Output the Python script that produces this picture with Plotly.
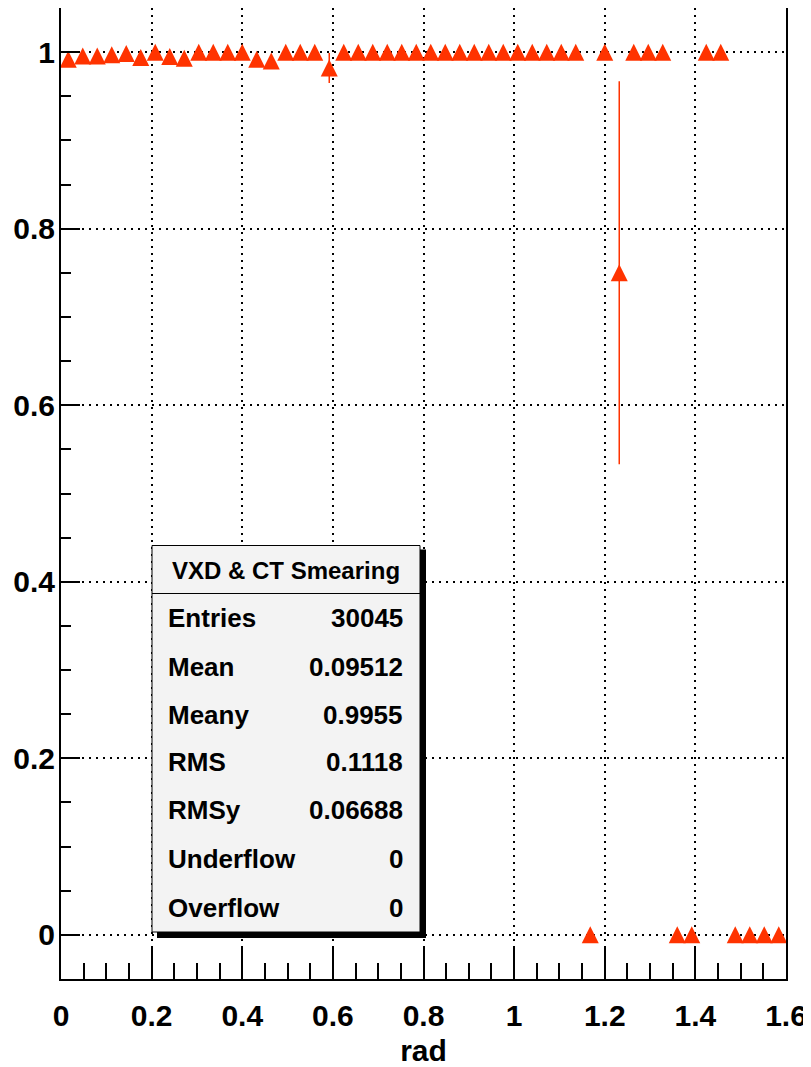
import plotly.graph_objects as go

# ---------------- data ----------------
bin_centers = [0.016, 0.048, 0.080, 0.112, 0.144, 0.176, 0.208, 0.240, 0.272, 0.304,
               0.336, 0.368, 0.400, 0.432, 0.464, 0.496, 0.528, 0.560, 0.592, 0.624,
               0.656, 0.688, 0.720, 0.752, 0.784, 0.816, 0.848, 0.880, 0.912, 0.944,
               0.976, 1.008, 1.040, 1.072, 1.104, 1.136, 1.168, 1.200, 1.232, 1.264,
               1.296, 1.328, 1.360, 1.392, 1.424, 1.456, 1.488, 1.520, 1.552, 1.584]
efficiency = [0.992, 0.9955, 0.9955, 0.997, 0.9985, 0.994, 1.0, 0.995, 0.993, 1.0,
              1.0, 1.0, 1.0, 0.992, 0.990, 1.0, 1.0, 1.0, 0.982, 1.0,
              1.0, 1.0, 1.0, 1.0, 1.0, 1.0, 1.0, 1.0, 1.0, 1.0,
              1.0, 1.0, 1.0, 1.0, 1.0, 1.0, 0.0, 1.0, 0.75, 1.0,
              1.0, 1.0, 0.0, 0.0, 1.0, 1.0, 0.0, 0.0, 0.0, 0.0]
eff_error = [0.006, 0.004, 0.004, 0.003, 0.002, 0.005, 0.0, 0.004, 0.005, 0.0,
             0.0, 0.0, 0.0, 0.006, 0.007, 0.0, 0.0, 0.0, 0.017, 0.0,
             0.0, 0.0, 0.0, 0.0, 0.0, 0.0, 0.0, 0.0, 0.0, 0.0,
             0.0, 0.0, 0.0, 0.0, 0.0, 0.0, 0.0, 0.0, 0.217, 0.0,
             0.0, 0.0, 0.0, 0.0, 0.0, 0.0, 0.0, 0.0, 0.0, 0.0]

x_ticks = [0, 0.2, 0.4, 0.6, 0.8, 1.0, 1.2, 1.4, 1.6]
x_tick_labels = ["0", "0.2", "0.4", "0.6", "0.8", "1", "1.2", "1.4", "1.6"]
y_ticks = [0, 0.2, 0.4, 0.6, 0.8, 1.0]
y_tick_labels = ["0", "0.2", "0.4", "0.6", "0.8", "1"]

stats_title = "VXD & CT Smearing"
stats_names = ["Entries", "Mean", "Meany", "RMS", "RMSy", "Underflow", "Overflow"]
stats_values = ["30045", "0.09512", "0.9955", "0.1118", "0.06688", "0", "0"]

# ---------------- style ----------------
RED = "#ff3300"
FONT = "Liberation Sans, Arial, Helvetica, sans-serif"
W, H = 811, 1067
BODY = 8  # default page body margin
PL, PR, PT, PB = 61, 786, 8, 979


def px2x(px):
    return (px - PL) / (PR - PL)


def py2y(py):
    return (PB - py) / (PB - PT)


fig = go.Figure()
fig.add_trace(go.Scatter(
    x=bin_centers, y=efficiency, mode="markers",
    marker=dict(symbol="arrow-down", angle=180, size=17, color=RED, standoff=8.5,
                line=dict(width=0)),
    error_y=dict(type="data", array=eff_error, visible=True, color=RED,
                 thickness=1.5, width=0),
    showlegend=False,
))

axis_common = dict(
    showline=True, linecolor="black", linewidth=2, mirror=True,
    ticks="inside", tickcolor="black", tickwidth=2,
    showgrid=True, gridcolor="black", gridwidth=1.5, griddash="2px,5px",
    zeroline=False, automargin=False,
    tickfont=dict(family=FONT, size=30, color="black", weight="bold"),
)

fig.update_layout(
    width=W - BODY, height=H - BODY,
    margin=dict(l=PL - BODY, r=W - PR, t=PT - BODY, b=H - PB),
    paper_bgcolor="white", plot_bgcolor="white",
    font=dict(family=FONT, color="black"),
    xaxis=dict(
        range=[0, 1.6], tickvals=x_ticks, ticktext=x_tick_labels, ticklen=32,
        minor=dict(ticks="inside", ticklen=16, tickwidth=2, tickcolor="black",
                   dtick=0.05, tick0=0, showgrid=False),
        ticklabelstandoff=9,
        title=dict(text="rad", font=dict(family=FONT, size=30, weight="bold"),
                   standoff=19),
        **axis_common,
    ),
    yaxis=dict(
        range=[-0.05, 1.05], tickvals=y_ticks, ticktext=y_tick_labels, ticklen=19,
        minor=dict(ticks="inside", ticklen=10, tickwidth=2, tickcolor="black",
                   dtick=0.05, tick0=0, showgrid=False),
        ticklabelstandoff=-2,
        **axis_common,
    ),
)

# ---------------- stats box ----------------
bx0, bx1, by0, by1 = 152, 420, 545.5, 932
shapes = [
    dict(type="rect", xref="paper", yref="paper",
         x0=px2x(bx0 + 5), x1=px2x(bx1 + 6), y0=py2y(by1 + 6), y1=py2y(by0 + 4),
         fillcolor="black", line=dict(width=0), layer="above"),
    dict(type="rect", xref="paper", yref="paper",
         x0=px2x(bx0), x1=px2x(bx1), y0=py2y(by1), y1=py2y(by0),
         fillcolor="#f3f3f3", line=dict(color="black", width=1), layer="above"),
    dict(type="line", xref="paper", yref="paper",
         x0=px2x(bx0), x1=px2x(bx1), y0=py2y(593.5), y1=py2y(593.5),
         line=dict(color="black", width=1), layer="above"),
]
fig.update_layout(shapes=shapes)

annotations = [
    dict(text=stats_title, xref="paper", yref="paper",
         x=px2x((bx0 + bx1) / 2), y=py2y(571), xanchor="center", yanchor="middle",
         showarrow=False, font=dict(family=FONT, size=24, weight="bold", color="black")),
]
row_y = [618.5, 667, 715, 762, 810, 859, 908]
for name, val, ry in zip(stats_names, stats_values, row_y):
    annotations.append(dict(text=name, xref="paper", yref="paper",
                            x=px2x(166), y=py2y(ry), xanchor="left", yanchor="middle",
                            showarrow=False,
                            font=dict(family=FONT, size=26, weight="bold", color="black")))
    annotations.append(dict(text=val, xref="paper", yref="paper",
                            x=px2x(405), y=py2y(ry), xanchor="right", yanchor="middle",
                            showarrow=False,
                            font=dict(family=FONT, size=26, weight="bold", color="black")))
fig.update_layout(annotations=annotations)

fig.write_html("out.html")
